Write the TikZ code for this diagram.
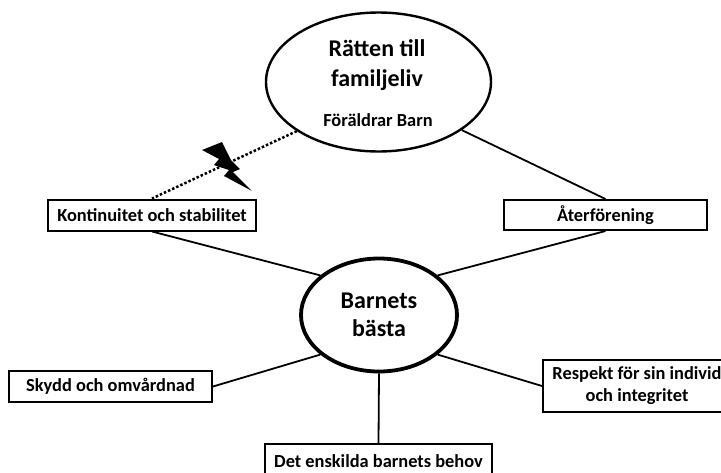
\documentclass[tikz,border=0pt]{standalone}
\usepackage{fontspec}
\setmainfont{Carlito}
\usetikzlibrary{shapes.geometric}
\tikzset{
  box/.style={draw, line width=2pt, fill=white, font=\bfseries\fontsize{18.4}{22}\selectfont, align=center, inner sep=0pt},
  oval/.style={draw, ellipse, align=center, inner sep=0pt},
  link/.style={line width=1.8pt}
}
\begin{document}
\begin{tikzpicture}[x=1pt,y=-1pt]
\useasboundingbox (0,0) rectangle (721,472);

% Ovals
\node[oval, line width=2.4pt, minimum width=225pt, minimum height=139pt] (ratt) at (378.5,82) {};
\node[oval, line width=3.8pt, minimum width=156pt, minimum height=113pt, font=\bfseries\fontsize{24}{28}\selectfont] (barn) at (379,315) {Barnets\\bästa};

% Texts in the top oval
\node[font=\bfseries\fontsize{24}{30}\selectfont, align=center] (rattText) at (377,65) {Rätten till\\familjeliv};
\node[font=\bfseries\fontsize{18.4}{22}\selectfont] (foraldrar) at (378,120) {Föräldrar Barn};

% Boxes
\node[box, minimum width=208pt, minimum height=31pt] (kont) at (152,215) {Kontinuitet och stabilitet};
\node[box, minimum width=203pt, minimum height=30pt] (ater) at (605.5,215) {Återförening};
\node[box, minimum width=203pt, minimum height=31pt] (skydd) at (110.5,386.5) {Skydd och omvårdnad};
\node[box, minimum width=188pt, minimum height=52pt] (resp) at (637,386) {Respekt för sin individ\\och integritet};
\node[box, minimum width=227pt, minimum height=34pt] (behov) at (378.5,461) {Det enskilda barnets behov};

% Links
\draw[link] (ratt.-30) -- (ater.north);
\draw[link] (kont.south) -- (barn.146);
\draw[link] (ater.south) -- (barn.34);
\draw[link] (skydd.east) -- (barn.-146);
\draw[link] (resp.west) -- (barn.-34);
\draw[link] (barn.south) -- (behov.north);

% Dotted line
\draw[line width=2.5pt, dotted] (ratt.-149) -- (kont.north);

% Lightning
\fill (202,150) -- (222,142) -- (231,160) -- (240,169) -- (233,172) -- (252,191)
  -- (224,176) -- (229,170) -- (214,165) -- (219,159) -- cycle;

\end{tikzpicture}
\end{document}
